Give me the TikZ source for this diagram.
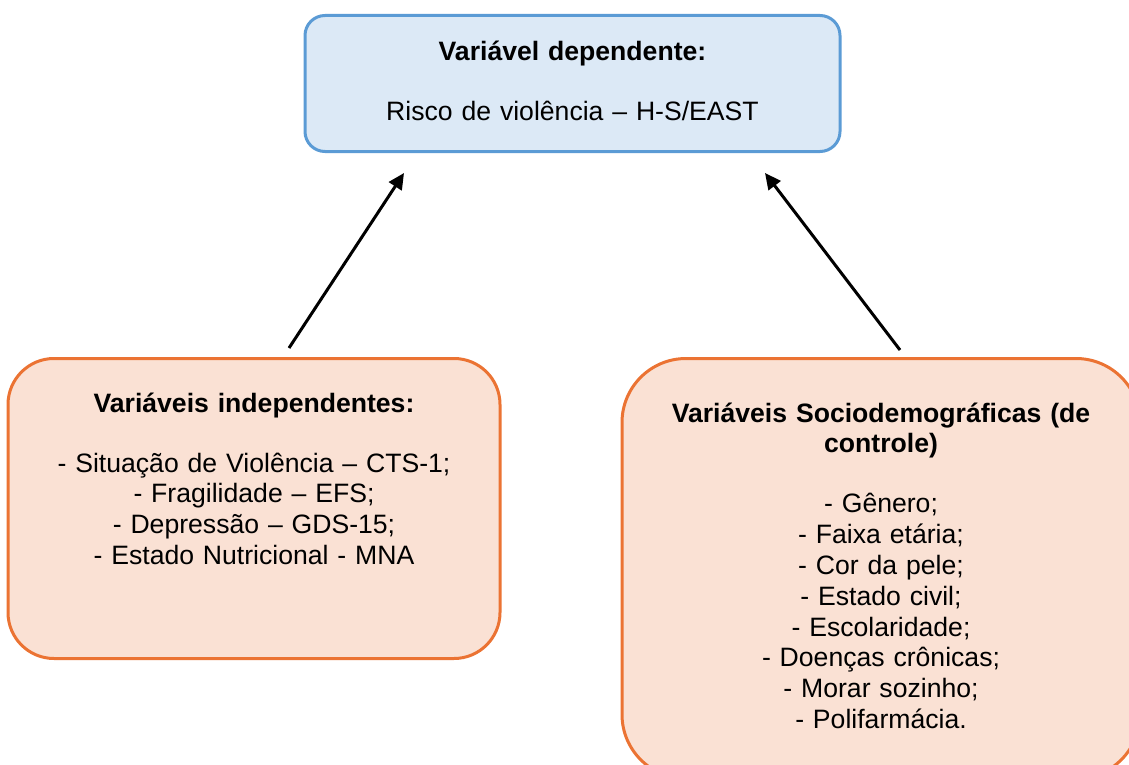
\documentclass[tikz,border=0pt]{standalone}
\usepackage{fontspec}
\setmainfont{Liberation Sans}
\usetikzlibrary{arrows.meta,calc}
\definecolor{depfill}{HTML}{DCE9F6}
\definecolor{depline}{HTML}{5B9BD5}
\definecolor{varfill}{HTML}{FAE1D4}
\definecolor{varline}{HTML}{EB7333}
\tikzset{
  varbox/.style={draw=varline, fill=varfill, line width=1.5pt, anchor=north,
    align=center, inner sep=0pt,
    font=\fontsize{13.3pt}{15.4pt}\selectfont},
  depbox/.style={varbox, draw=depline, fill=depfill, rounded corners=10pt},
}
\begin{document}
\begin{tikzpicture}[x=0.5pt, y=-0.5pt]
    \useasboundingbox (0,0) rectangle (1129,765);
    \clip (0,0) rectangle (1129,765);
    \node (dep) [depbox, text width=267.5pt, text height=22.75pt, text depth=45.25pt]
      at (572.5,14)
      {\textbf{Variável dependente:}\\[14.6pt]
       Risco de violência – H-S/EAST};
    \node (indep) [varbox, rounded corners=23pt, text width=246pt, text height=26.75pt, text depth=123.25pt]
      at (254,357)
      {\textbf{Variáveis independentes:}\\[14.6pt]
       - Situação de Violência – CTS-1;\\
       - Fragilidade – EFS;\\
       - Depressão – GDS-15;\\
       - Estado Nutricional - MNA};
    \node (ctrl) [varbox, rounded corners=32pt, text width=259pt, text height=31.75pt, text depth=178.25pt]
      at (881,357)
      {\textbf{Variáveis Sociodemográficas (de}\\
       \textbf{controle)}\\[14.6pt]
       - Gênero;\\
       - Faixa etária;\\
       - Cor da pele;\\
       - Estado civil;\\
       - Escolaridade;\\
       - Doenças crônicas;\\
       - Morar sozinho;\\
       - Polifarmácia.};
    \coordinate (indep-out) at ($(indep.north)+(35,-9)$);
    \coordinate (ctrl-out) at ($(ctrl.north)+(19,-7)$);
    \coordinate (dep-inL) at ($(dep.south)+(-168.5,20)$);
    \coordinate (dep-inR) at ($(dep.south)+(192.5,20)$);
    \path[-{Triangle[length=8pt,width=7.5pt]}, line width=1.5pt]
      (indep-out) edge (dep-inL)
      (ctrl-out) edge (dep-inR)
      ;
\end{tikzpicture}
\end{document}
